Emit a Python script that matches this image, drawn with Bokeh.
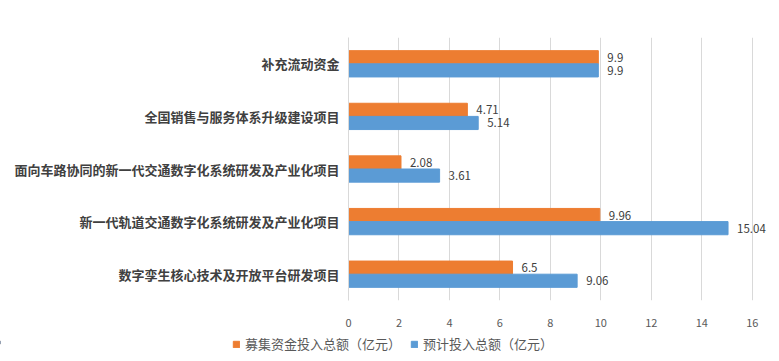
from bokeh.plotting import figure
from bokeh.models import ColumnDataSource, FactorRange, Legend, LegendItem, FixedTicker, Range1d
from bokeh.layouts import column
from bokeh.transform import dodge
from bokeh.core.properties import value
from bokeh.embed import file_html
from bokeh.resources import INLINE

categories = [
    "补充流动资金",
    "全国销售与服务体系升级建设项目",
    "面向车路协同的新一代交通数字化系统研发及产业化项目",
    "新一代轨道交通数字化系统研发及产业化项目",
    "数字孪生核心技术及开放平台研发项目",
]
raised = [9.9, 4.71, 2.08, 9.96, 6.5]
planned = [9.9, 5.14, 3.61, 15.04, 9.06]
x_ticks = [0, 2, 4, 6, 8, 10, 12, 14, 16]
series_names = ["募集资金投入总额（亿元）", "预计投入总额（亿元）"]

ORANGE = "#ED7D31"
BLUE = "#5B9BD5"
CJK = "Noto Sans CJK SC"

src = ColumnDataSource(dict(
    cat=categories,
    raised=raised,
    planned=planned,
    raised_lbl=[f"{v:g}" for v in raised],
    planned_lbl=[f"{v:g}" for v in planned],
))

p = figure(
    width=779, height=329,
    y_range=FactorRange(*reversed(categories)),
    x_range=(0, 17),
    output_backend="svg", toolbar_location=None,
    min_border_left=348, min_border_right=2,
    min_border_top=37, min_border_bottom=29,
)
p.frame_align = False
p.outline_line_color = None
p.background_fill_color = "white"
p.border_fill_color = "white"

r1 = p.hbar(y=dodge("cat", 0.125, range=p.y_range), right="raised", left=0, height=0.25,
            source=src, fill_color=ORANGE, line_color=ORANGE)
r2 = p.hbar(y=dodge("cat", -0.125, range=p.y_range), right="planned", left=0, height=0.25,
            source=src, fill_color=BLUE, line_color=BLUE)

p.text(x="raised", y=dodge("cat", 0.125, range=p.y_range), text="raised_lbl", source=src,
       x_offset=9, text_baseline="middle", text_align="left",
       text_font=value(CJK), text_font_size="11.5px", text_color="#404040")
p.text(x="planned", y=dodge("cat", -0.125, range=p.y_range), text="planned_lbl", source=src,
       x_offset=9, text_baseline="middle", text_align="left",
       text_font=value(CJK), text_font_size="11.5px", text_color="#404040")

p.xaxis.ticker = FixedTicker(ticks=x_ticks)
p.xaxis.axis_line_color = None
p.xaxis.major_tick_line_color = None
p.xaxis.minor_tick_line_color = None
p.xaxis.major_label_standoff = 12
p.xaxis.major_label_text_font = CJK
p.xaxis.major_label_text_font_size = "11px"
p.xaxis.major_label_text_color = "#595959"

p.yaxis.axis_line_color = "#D9D9D9"
p.yaxis.major_tick_line_color = None
p.yaxis.minor_tick_line_color = None
p.yaxis.major_label_standoff = 3
p.yaxis.major_label_text_font = CJK
p.yaxis.major_label_text_font_size = "13px"
p.yaxis.major_label_text_font_style = "bold"
p.yaxis.major_label_text_color = "#404040"

p.xgrid.grid_line_color = "#D9D9D9"
p.xgrid.ticker = FixedTicker(ticks=x_ticks)
p.ygrid.grid_line_color = None

# legend strip below the chart (swatch renderers sit far outside the visible area)
lg = figure(
    width=779, height=26, x_range=Range1d(0, 1), y_range=Range1d(0, 1),
    output_backend="svg", toolbar_location=None,
    min_border=0, min_border_left=0, min_border_right=0, min_border_top=0, min_border_bottom=0,
)
lg.frame_align = False
lg.axis.visible = False
lg.grid.visible = False
lg.outline_line_color = None
swatch = ColumnDataSource(dict(y=[0.5], left=[-100.0], right=[-99.0]))
d1 = lg.hbar(y="y", right="right", left="left", height=0.1, source=swatch,
             fill_color=ORANGE, line_color=ORANGE)
d2 = lg.hbar(y="y", right="right", left="left", height=0.1, source=swatch,
             fill_color=BLUE, line_color=BLUE)

legend = Legend(
    items=[LegendItem(label=series_names[0], renderers=[d1]),
           LegendItem(label=series_names[1], renderers=[d2])],
    orientation="horizontal", location=(232, 2),
    label_text_font=CJK, label_text_font_size="13px", label_text_color="#595959",
    glyph_width=8, glyph_height=8, spacing=9, label_standoff=5,
    border_line_color=None, background_fill_alpha=0, padding=0, margin=0,
)
lg.add_layout(legend, "center")

layout = column(p, lg, spacing=0)
open("out.html", "w").write(file_html(layout, INLINE))
